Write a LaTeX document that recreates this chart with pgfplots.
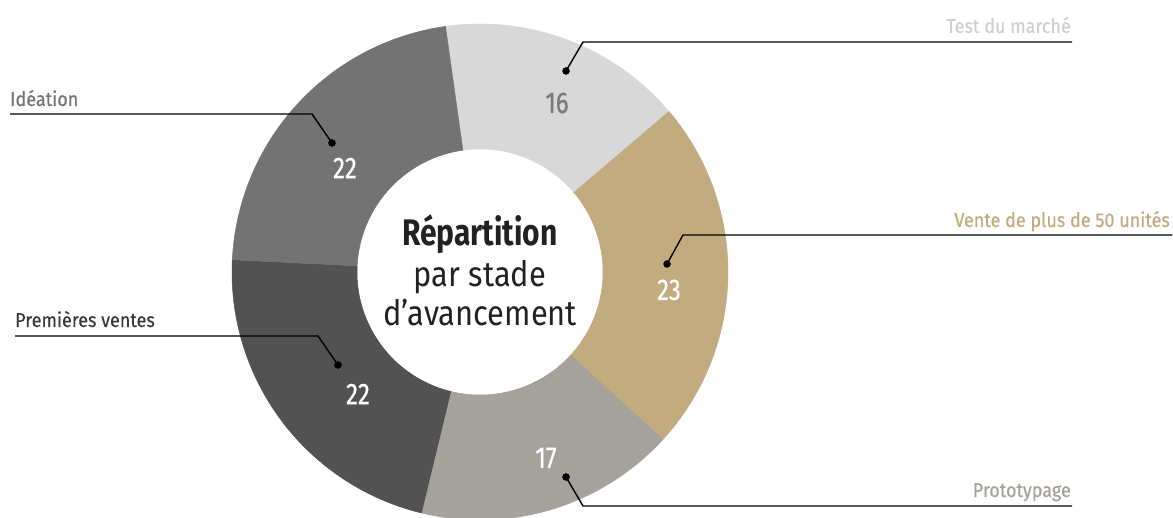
\documentclass[border=0pt]{standalone}
\usepackage{fontspec}
\setmainfont{Fira Sans}[FakeStretch=0.9, FakeBold=0.4]
\newfontfamily\numf{Fira Sans}[FakeStretch=0.8, FakeBold=0.6]
\newfontfamily\titf{Fira Sans}[FakeStretch=0.81]
\newfontfamily\subf{Fira Sans}[FakeStretch=0.88]
\usepackage{pgfplots}
\usepackage{pgfplotstable}
\pgfplotsset{compat=1.18}
\definecolor{ctest}{HTML}{D8D8D8}
\definecolor{cvente}{HTML}{C2AB7E}
\definecolor{cproto}{HTML}{A5A19B}
\definecolor{cprem}{HTML}{525252}
\definecolor{cidea}{HTML}{737373}
\definecolor{ltest}{HTML}{CFCFCF}
\definecolor{lprem}{HTML}{3A3A3A}
\definecolor{ctext}{HTML}{222222}
\definecolor{cval}{HTML}{7A7A7A}
\pgfplotstableread{
value color
16 ctest
23 cvente
17 cproto
22 cprem
22 cidea
}\donut
\begin{document}
\begin{tikzpicture}
\begin{axis}[scale only axis, width=1173pt, height=518pt,
  xmin=0, xmax=1173, ymin=0, ymax=518, hide axis]
\pgfmathsetmacro{\cum}{0}
\pgfplotsforeachungrouped \i in {0,...,4}{%
  \pgfplotstablegetelem{\i}{value}\of\donut
  \let\val\pgfplotsretval
  \pgfplotstablegetelem{\i}{color}\of\donut
  \let\col\pgfplotsretval
  \pgfmathsetmacro{\A}{98-3.6*\cum}%
  \pgfmathsetmacro{\B}{98-3.6*(\cum+\val)}%
  \pgfmathsetmacro{\cum}{\cum+\val}%
  \edef\temp{\noexpand\addplot[fill=\col, draw=\col, line width=0.5pt, domain=0:3, samples=241]
    ({480+ifthenelse(x<1.5, 248*cos(\A+(\B-\A)*min(x,1)), 123*cos(\B-(\B-\A)*max(x-2,0)))},
     {246+ifthenelse(x<1.5, 248*sin(\A+(\B-\A)*min(x,1)), 123*sin(\B-(\B-\A)*max(x-2,0)))});}%
  \temp
}
% leader lines
\addplot[black, line width=1.4pt] coordinates {(566,447) (583,476) (1072,476)};
\addplot[black, line width=1.4pt] coordinates {(667,254) (683,283) (1172,283)};
\addplot[black, line width=1.4pt] coordinates {(566,41) (583,12) (1072,12)};
\addplot[black, line width=1.4pt] coordinates {(332,375) (312,404) (10,404)};
\addplot[black, line width=1.4pt] coordinates {(338,153) (318,182) (15,182)};
\addplot[only marks, mark=*, mark size=3.5pt, black] coordinates {(566,447) (667,254) (566,41) (332,375) (338,153)};
% category labels
\node[anchor=base east, text=ltest, font=\fontsize{20}{23}\selectfont, inner sep=0pt] at (axis cs:1071,485) {Test du marché};
\node[anchor=base east, text=cvente, font=\fontsize{20}{23}\selectfont, inner sep=0pt] at (axis cs:1170,291) {Vente de plus de 50 unités};
\node[anchor=base east, text=cproto, font=\fontsize{20}{23}\selectfont, inner sep=0pt] at (axis cs:1071,21) {Prototypage};
\node[anchor=base west, text=cidea, font=\fontsize{20}{23}\selectfont, inner sep=0pt] at (axis cs:10,412) {Idéation};
\node[anchor=base west, text=lprem, font=\fontsize{20}{23}\selectfont, inner sep=0pt] at (axis cs:15,191) {Premières ventes};
% values
\node[text=cval, font=\numf\fontsize{30}{34}\selectfont] at (axis cs:557,415) {16};
\node[text=white, font=\numf\fontsize{30}{34}\selectfont] at (axis cs:345,350) {22};
\node[text=white, font=\numf\fontsize{30}{34}\selectfont] at (axis cs:669,228) {23};
\node[text=white, font=\numf\fontsize{30}{34}\selectfont] at (axis cs:546,60) {17};
\node[text=white, font=\numf\fontsize{30}{34}\selectfont] at (axis cs:358,124) {22};
% centre title
\node[anchor=base, text=ctext, font=\titf\fontsize{37}{40}\selectfont\bfseries, inner sep=0pt] at (axis cs:480,272) {Répartition};
\node[anchor=base, text=ctext, font=\subf\fontsize{35}{40}\selectfont, inner sep=0pt] at (axis cs:480,231) {par stade};
\node[anchor=base, text=ctext, font=\subf\fontsize{35}{40}\selectfont, inner sep=0pt] at (axis cs:480,192) {d’avancement};
\end{axis}
\pgfresetboundingbox
\path[use as bounding box] (0,0) rectangle (1173pt,518pt);
\end{tikzpicture}
\end{document}
